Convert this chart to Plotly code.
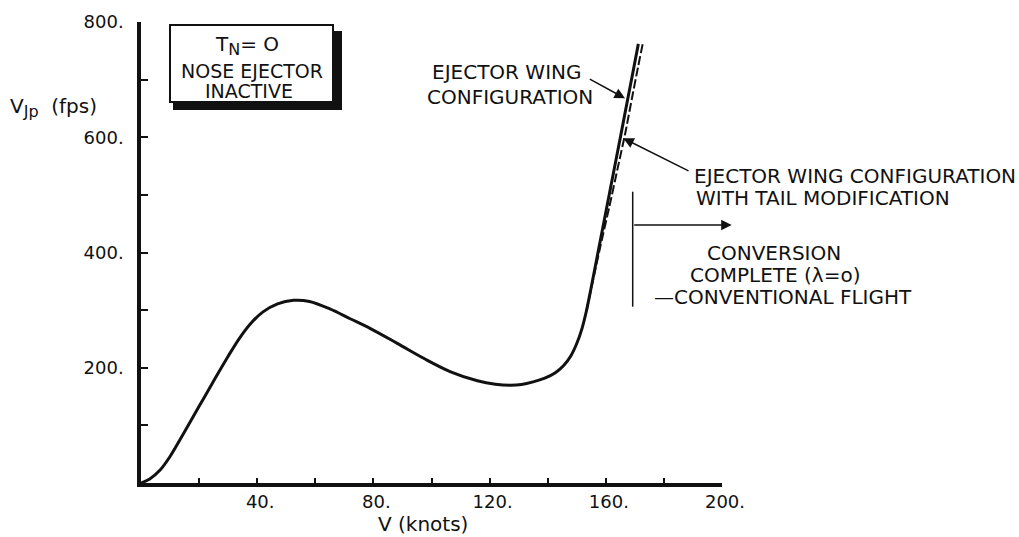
import plotly.graph_objects as go

# Jet velocity required vs. flight speed (ejector wing configuration)
speed_kt = [0, 3, 6.5, 10, 15, 20, 25, 30, 34, 38, 42, 47, 52.5, 58, 65, 72, 79,
            88.2, 97.3, 106.6, 115.8, 122, 127, 131, 135, 139, 142.5, 145.5, 148,
            150, 151.8, 153.3, 154.8, 157.5, 160.2, 162.9, 165.1, 167.3, 169.5, 171.2]
vjp_fps = [0, 7, 22, 46, 89, 133, 177, 220, 252, 278, 297, 311, 317, 315, 302, 285, 268,
           242.4, 216.4, 193, 177.5, 171.5, 169.8, 171, 175.5, 182, 191, 204, 221,
           242, 268, 298, 335, 405, 475, 545, 602, 660, 717, 762]

# Same configuration with tail modification (upper branch only)
tail_speed_kt = [153.3, 155.1, 158.1, 161.2, 164.2, 166.7, 168.9, 171.1, 172.7]
tail_vjp_fps = [298, 340, 410, 479, 549, 607, 665, 722, 762]

x_tick_vals = [20, 40, 60, 80, 100, 120, 140, 160, 180, 200]
x_tick_text = ["", "40.", "", "80.", "", "120.", "", "160.", "", "200."]
y_tick_vals = [100, 200, 300, 400, 500, 600, 700, 800]
y_tick_text = ["", "200.", "", "400.", "", "600.", "", "800."]

FONT = "DejaVu Sans"
INK = "#111111"

W, H = 1019, 537
L, R, T, B = 141, 297, 22, 54
PW, PH = W - L - R, H - T - B


def px(x):
    return (x - L) / PW


def py(y):
    return (H - B - y) / PH


fig = go.Figure()
fig.add_trace(go.Scatter(
    x=speed_kt, y=vjp_fps, mode="lines",
    line=dict(color=INK, width=3, shape="spline", smoothing=1.0),
    hoverinfo="skip", showlegend=False, cliponaxis=False,
))
fig.add_trace(go.Scatter(
    x=tail_speed_kt, y=tail_vjp_fps, mode="lines",
    line=dict(color=INK, width=2, dash="9px,3px", shape="spline", smoothing=0.6),
    hoverinfo="skip", showlegend=False, cliponaxis=False,
))

# Boxed note with drop shadow
fig.add_shape(type="rect", xref="paper", yref="paper",
              x0=px(173), x1=px(342), y0=py(110), y1=py(31),
              fillcolor=INK, line=dict(width=0))
fig.add_shape(type="rect", xref="paper", yref="paper",
              x0=px(170), x1=px(333), y0=py(102), y1=py(25),
              fillcolor="white", line=dict(color=INK, width=2))

# Conversion-complete marker
fig.add_shape(type="line", xref="paper", yref="paper",
              x0=px(632.7), x1=px(632.7), y0=py(306.7), y1=py(191.7),
              line=dict(color=INK, width=1.5))

ann = []


def note(text, x, y, xanchor="center", size=20):
    ann.append(dict(text=text, xref="paper", yref="paper", x=px(x), y=py(y),
                    xanchor=xanchor, yanchor="middle", align="left",
                    showarrow=False, borderpad=0,
                    font=dict(family=FONT, size=size, color=INK)))


def arrow(tip_x, tip_y, tail_x, tail_y):
    ann.append(dict(text="", xref="paper", yref="paper", x=px(tip_x), y=py(tip_y),
                    axref="pixel", ayref="pixel", ax=tail_x - tip_x, ay=tail_y - tip_y,
                    showarrow=True, arrowhead=2, arrowsize=1.4, arrowwidth=1.5,
                    arrowcolor=INK, standoff=0))


SUB = "<sub><span style='font-size:16px'>{}</span></sub>"

# Box contents
note("T" + SUB.format("N") + "= O", 214, 46, xanchor="left")
note("NOSE EJECTOR", 251.5, 70.5, size=19)
note("INACTIVE", 249, 90.5, size=19)

# Curve labels
note("EJECTOR WING", 582, 72, xanchor="right")
note("CONFIGURATION", 594, 97.5, xanchor="right")
arrow(625, 98.3, 588.3, 78.3)

note("EJECTOR WING CONFIGURATION", 693, 176, xanchor="left")
note("WITH TAIL MODIFICATION", 695, 198, xanchor="left")
arrow(623.3, 138.3, 690, 171.7)

arrow(731.7, 225, 632.7, 225)
note("CONVERSION", 774, 252.5)
note("COMPLETE (λ=o)", 775, 275)
note("—CONVENTIONAL FLIGHT", 782.5, 296.5)

# Axis titles
note("V" + SUB.format("Jp") + "  (fps)", 9, 107, xanchor="left")
note("V (knots)", 423, 524)

tick_font = dict(family=FONT, size=18, color=INK)

fig.update_layout(
    width=W, height=H, autosize=False,
    margin=dict(l=L, r=R, t=T, b=B, pad=0),
    paper_bgcolor="white", plot_bgcolor="white",
    font=tick_font, annotations=ann,
    xaxis=dict(range=[0, 200], showgrid=False, zeroline=False,
               showline=True, linecolor=INK, linewidth=3.5,
               tickmode="array", tickvals=x_tick_vals, ticktext=x_tick_text,
               ticks="inside", ticklen=5, tickwidth=2, tickcolor=INK,
               tickfont=tick_font, ticklabelshift=3, fixedrange=True),
    yaxis=dict(range=[0, 800], showgrid=False, zeroline=False,
               showline=True, linecolor=INK, linewidth=3.5,
               tickmode="array", tickvals=y_tick_vals, ticktext=y_tick_text,
               ticks="inside", ticklen=7, tickwidth=2, tickcolor=INK,
               tickfont=tick_font, ticklabelstandoff=10, fixedrange=True),
)

fig.write_html("out.html")
